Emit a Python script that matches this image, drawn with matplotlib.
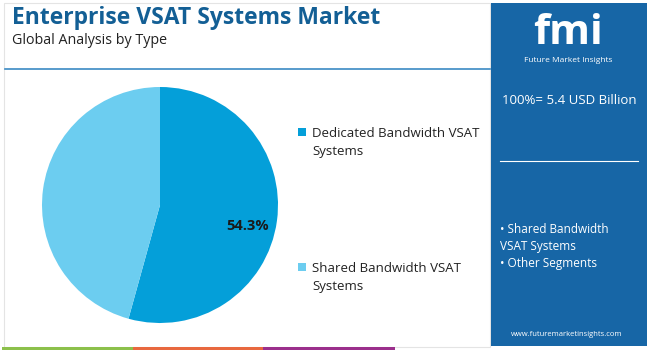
import matplotlib.pyplot as plt
from matplotlib.patches import Rectangle

# data
labels = ['Dedicated Bandwidth VSAT\nSystems', 'Shared Bandwidth VSAT\nSystems']
shares = [54.3, 45.7]
colors = ['#049fd9', '#6ccdf0']
total_text = '100%= 5.4 USD Billion'
side_items = ['• Shared Bandwidth\nVSAT Systems', '• Other Segments']

plt.rcParams['font.family'] = ['Open Sans', 'DejaVu Sans']

W, H = 650, 351
fig = plt.figure(figsize=(6.5, 3.51), dpi=100)

def fx(x):
    return x / W

def fy(y):
    return 1 - y / H

# faint frame around the chart area
fig.add_artist(Rectangle((fx(4), fy(347)), fx(486), 344 / H, fill=False,
                         edgecolor='#e4e4e4', lw=0.8))

# header
fig.text(fx(12), fy(18), 'Enterprise VSAT Systems Market', fontsize=16.5,
         fontweight='bold', color='#135f95', va='center', ha='left')
fig.text(fx(12), fy(40), 'Global Analysis by Type', fontsize=10.3,
         color='#222222', va='center', ha='left')
fig.add_artist(plt.Line2D([fx(5), fx(490)], [fy(69), fy(69)],
                          color='#3b8ac4', lw=1.2))

# bottom colour strip
for x0, x1, c in [(2, 133, '#8cc04b'), (133, 263, '#e8683f'), (263, 395, '#9b2f8c')]:
    fig.add_artist(Rectangle((fx(x0), fy(350)), fx(x1 - x0), 3 / H,
                             color=c, lw=0))

# pie
ax = fig.add_axes([fx(42), fy(323), fx(236), 236 / H])
wedges, _ = ax.pie(shares, colors=colors, startangle=90, counterclock=False,
                   wedgeprops=dict(linewidth=0))
ax.set_xlim(-1, 1)
ax.set_ylim(-1, 1)
ax.set_aspect('equal')
ax.text(0.74, -0.18, f'{shares[0]}%', fontsize=10.5, fontweight='bold',
        color='#1a1a1a', ha='center', va='center')

# legend
for yy, lab, c in [(132, labels[0], colors[0]), (267, labels[1], colors[1])]:
    fig.add_artist(Rectangle((fx(298), fy(yy + 4)), fx(8), 8 / H, color=c, lw=0))
    fig.text(fx(312), fy(yy - 5), lab, fontsize=9.5, color='#222222',
             va='top', ha='left', linespacing=1.5)

# right panel
fig.add_artist(Rectangle((fx(491), fy(346)), fx(156), 343 / H,
                         color='#1766a6', lw=0))
fig.text(fx(568), fy(33), 'fmi', fontsize=30, fontweight='bold', color='white',
         ha='center', va='center')
fig.text(fx(568), fy(60), 'Future Market Insights', fontsize=6, color='white',
         ha='center', va='center')
fig.text(fx(569), fy(101), total_text, fontsize=9.5, color='white',
         ha='center', va='center')
fig.add_artist(plt.Line2D([fx(500), fx(638)], [fy(161), fy(161)],
                          color='white', lw=0.8))
fig.text(fx(500), fy(223), side_items[0], fontsize=8.5, color='white',
         ha='left', va='top', linespacing=1.4)
fig.text(fx(500), fy(257), side_items[1], fontsize=8.5, color='white',
         ha='left', va='top')
fig.text(fx(567), fy(335), 'www.futuremarketinsights.com', fontsize=5.5,
         color='white', ha='center', va='center')

fig.savefig('out.png', dpi=100)
